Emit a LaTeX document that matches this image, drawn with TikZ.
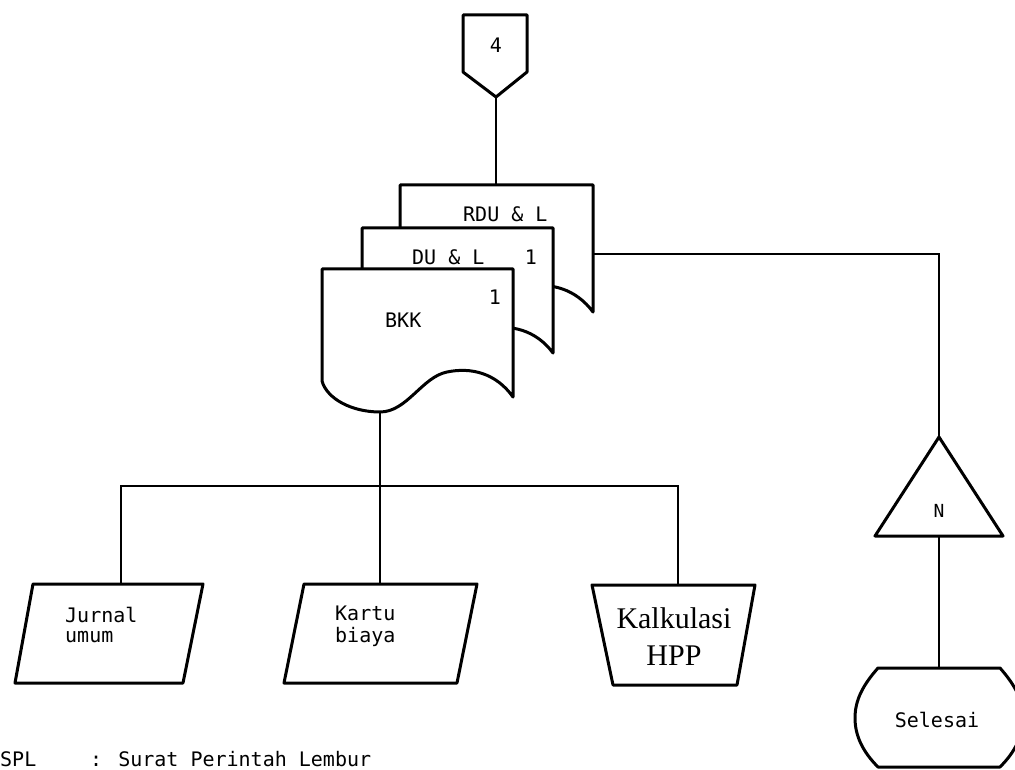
\documentclass[tikz,border=0pt]{standalone}
\usepackage{fontspec}
\newfontfamily\dotf{DejaVu Sans Mono}
\newfontfamily\serf{Liberation Serif}
\begin{document}
\begin{tikzpicture}[x=1pt,y=-1pt,
  shp/.style={line width=3pt, line join=round, fill=white},
  con/.style={line width=1.4pt},
  lbl/.style={font=\dotf\fontsize{20}{20}\selectfont, inner sep=0pt},
  sml/.style={font=\dotf\fontsize{18}{18}\selectfont, inner sep=0pt},
  ser/.style={font=\serf\fontsize{30}{30}\selectfont, inner sep=0pt}]
\useasboundingbox (0,0) rectangle (1015,770);
\clip (0,0) rectangle (1015,770);
% anchor coordinates
\coordinate (c4tip) at (496,97);
\coordinate (rduTop) at (496,185);
\coordinate (rduR) at (593,254);
\coordinate (bkkB) at (380,412);
\coordinate (busL) at (121,486);
\coordinate (busM) at (380,486);
\coordinate (busR) at (678,486);
\coordinate (jurTop) at (121,584);
\coordinate (karTop) at (380,584);
\coordinate (kalTop) at (678,585);
\coordinate (nTop) at (939,437);
\coordinate (nBot) at (939,536);
\coordinate (selTop) at (939,668);
% connectors
\draw[con] (c4tip) -- (rduTop);
\draw[con] (rduR) -| (nTop);
\draw[con] (bkkB) -- (busM) -- (karTop);
\draw[con] (jurTop) -- (busL) -- (busR) -- (kalTop);
\draw[con] (nBot) -- (selTop);
% off-page connector
\draw[shp] (463,15) -- (527,15) -- (527,72) -- (496,97) -- (463,72) -- cycle;
\node[lbl, anchor=base] (t4) at (496,53) {4};
% documents
\begin{scope}[shift={(400,185)}]
\draw[shp] (0,0) -- (193,0) -- (193,127) .. controls (176,104) and (151,97) .. (126,102) .. controls (101,107) and (86,142) .. (59,142) .. controls (31,142) and (5,129) .. (0,111) -- cycle;
\end{scope}
\begin{scope}[shift={(362,228)}]
\draw[shp] (0,0) -- (191,0) -- (191,125) .. controls (174,102) and (149,96) .. (125,101) .. controls (100,106) and (85,141) .. (58,141) .. controls (30,141) and (5,128) .. (0,110) -- cycle;
\end{scope}
\begin{scope}[shift={(322,269)}]
\draw[shp] (0,0) -- (191,0) -- (191,128) .. controls (174,104) and (149,98) .. (125,103) .. controls (100,108) and (85,143) .. (58,143) .. controls (30,143) and (5,130) .. (0,112) -- cycle;
\end{scope}
\node[lbl, anchor=base west] (trdu) at (463,222) {RDU \& L};
\node[lbl, anchor=base west] (tdu) at (412,265) {DU \& L};
\node[lbl, anchor=base] (tdu1) at (531,265) {1};
\node[lbl, anchor=base west] (tbkk) at (385,327) {BKK};
\node[lbl, anchor=base] (tbkk1) at (495,305) {1};
% parallelograms
\draw[shp] (33,584) -- (203,584) -- (183,683) -- (15,683) -- cycle;
\node[lbl, anchor=base west] (tjur1) at (65,622) {Jurnal};
\node[lbl, anchor=base west] (tjur2) at (65,642) {umum};
\draw[shp] (304,584) -- (477,584) -- (457,683) -- (284,683) -- cycle;
\node[lbl, anchor=base west] (tkar1) at (335,620) {Kartu};
\node[lbl, anchor=base west] (tkar2) at (335,642) {biaya};
% manual operation
\draw[shp] (592,585) -- (755,585) -- (737,685) -- (613,685) -- cycle;
\node[ser, anchor=base] (tkal1) at (674,628) {Kalkulasi};
\node[ser, anchor=base] (tkal2) at (674,665) {HPP};
% triangle
\draw[shp] (nTop) -- (1003,536) -- (875,536) -- cycle;
\node[sml, anchor=base] (tn) at (939,517) {N};
% terminator
\draw[shp] (878,668) -- (1000,668) .. controls (1015,685) and (1023,700) .. (1023,718) .. controls (1023,736) and (1015,752) .. (1000,767) -- (878,767) .. controls (863,752) and (855,736) .. (855,718) .. controls (855,700) and (863,685) .. (878,668) -- cycle;
\node[lbl, anchor=base] (tsel) at (937,727) {Selesai};
% legend
\node[lbl, anchor=base west] (tspl) at (0,766) {SPL};
\node[lbl, anchor=base west] (tsplx) at (90,766) {: Surat Perintah Lembur};
\end{tikzpicture}
\end{document}
